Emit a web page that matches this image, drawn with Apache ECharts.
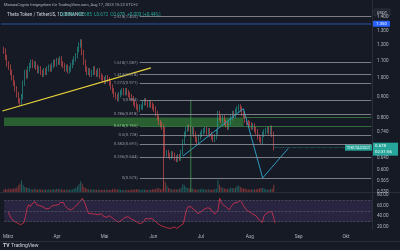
<!DOCTYPE html>
<html><head><meta charset="utf-8">
<script src="https://cdn.jsdelivr.net/npm/echarts@6/dist/echarts.min.js"></script>
<style>html,body{margin:0;padding:0;background:#161a25;}#c{width:400px;height:250px;}</style>
</head><body><div id="c"></div>
<script>
// ---------- DATA ----------
const monthNames = {'03':'März','04':'Apr','05':'Mai','06':'Jun','07':'Jul','08':'Aug','09':'Sep','10':'Okt'};
const firstOpen = 1.17;
// daily closes 2023-03-01 .. 2023-08-17
const closes = [
1.16,1.12,1.08,1.06,1.03,1.00,0.97,0.94,0.91,0.88,0.87,0.90,0.97,1.03,1.01,1.05,1.07,1.09,1.07,1.08,1.06,1.04,1.05,1.03,1.02,1.04,1.03,1.05,1.06,1.05,1.07,
1.09,1.08,1.10,1.09,1.11,1.08,1.07,1.05,1.06,1.04,1.05,1.07,1.09,1.11,1.13,1.17,1.20,1.22,1.15,1.09,1.05,1.03,1.04,1.02,1.03,1.05,1.03,1.02,1.04,1.01,
1.00,0.99,0.98,1.00,0.99,0.97,0.95,0.93,0.91,0.90,0.89,0.91,0.92,0.93,0.92,0.93,0.92,0.91,0.90,0.89,0.87,0.86,0.85,0.84,0.85,0.85,0.87,0.88,0.87,0.86,0.87,
0.86,0.85,0.84,0.82,0.80,0.78,0.77,0.76,0.75,0.655,0.66,0.65,0.645,0.655,0.65,0.64,0.635,0.645,0.64,0.66,0.70,0.73,0.75,0.76,0.755,0.74,0.75,0.73,0.71,0.70,
0.72,0.73,0.74,0.745,0.75,0.74,0.745,0.73,0.72,0.71,0.72,0.74,0.82,0.80,0.79,0.80,0.78,0.77,0.76,0.78,0.80,0.82,0.81,0.83,0.84,0.85,0.84,0.82,0.81,0.79,0.78,
0.775,0.77,0.76,0.765,0.75,0.74,0.72,0.71,0.70,0.73,0.74,0.745,0.75,0.74,0.755,0.73,0.678];
const lowOverride = {100: 0.536};
const volumes = [
20,22,18,25,20,24,22,26,30,45,60,80,50,35,30,28,25,20,18,22,20,18,19,17,16,18,15,17,19,16,18,
20,17,22,19,25,18,16,15,17,16,15,18,20,24,30,40,55,75,60,35,28,22,20,18,17,19,16,15,17,16,
15,14,16,18,15,14,16,20,22,18,17,19,15,14,13,15,14,13,15,16,18,17,20,19,16,15,18,17,15,14,16,
15,17,20,22,25,28,20,18,22,70,45,30,22,20,18,19,17,20,22,30,55,48,35,28,25,22,24,20,18,16,
18,20,22,19,18,17,19,16,15,17,20,22,85,50,35,28,25,22,20,24,30,28,26,32,40,45,35,28,25,22,20,
18,17,16,18,17,19,22,25,28,30,22,20,18,17,19,24,50];
const rsi = [
48,42,36,33,30,28,27,25,24,26,28,40,55,62,58,63,66,68,62,64,60,57,58,55,54,57,55,58,60,58,61,
64,62,66,63,66,60,58,54,56,52,54,57,60,63,65,70,74,76,62,52,45,43,45,42,44,47,43,42,45,41,
40,38,37,41,40,37,34,32,30,29,28,33,36,38,36,39,37,35,33,32,30,28,27,26,29,30,36,38,35,33,36,
34,31,29,26,24,22,21,20,20,18,18,17,19,20,19,17,19,22,21,26,40,52,58,60,58,54,56,50,45,43,
48,51,53,55,56,53,55,50,47,44,47,52,74,66,62,64,58,55,52,57,61,65,62,66,68,70,66,60,57,52,50,
48,46,44,45,41,38,33,30,28,40,44,46,48,45,49,40,27];
const priceTicks = [1.4,1.3,1.2,1.1,1.0,0.9,0.8,0.74,0.64,0.6,0.565,0.53];
const rsiTicks = [20,40,60,80];
const fibLevels = [
 {t:'2.618(1.405)', p:1.405},{t:'1.618(1.087)', p:1.087},{t:'1.414(1.018)', p:1.018},
 {t:'1.272(0.971)', p:0.971},{t:'1(0.884)', p:0.884},{t:'0.786(0.818)', p:0.818},
 {t:'0.5(0.728)', p:0.728},{t:'0.382(0.691)', p:0.691},{t:'0.236(0.644)', p:0.644},{t:'0(0.573)', p:0.573}];
const goldenZone = [0.765, 0.802];
const trendLine = [[1,0.831],[94,1.056]];
const abcdPath = [[114,0.647],[152,0.842],[164,0.573],[180,0.675]];
const vLine = [[119,0.885],[119,0.53]];
const blueLevel = 1.35;
const lastPrice = 0.678;

// ---------- BUILD ----------
const OFF = 2, N = 233;
const cats = [];
for (let k=0;k<N;k++){ const d=new Date(Date.UTC(2023,1,27+k)); cats.push(d.toISOString().slice(0,10)); }
const candles = cats.map(()=>'-'), vols = cats.map(()=>'-'), rsiData = cats.map(()=>'-');
for (let i=0;i<closes.length;i++){
  const o = i===0 ? firstOpen : closes[i-1], c = closes[i];
  let hi = Math.max(o,c)*1.015, lo = Math.min(o,c)*0.985;
  if (lowOverride[i]) lo = lowOverride[i];
  candles[i+OFF] = [o,c,lo,hi];
  vols[i+OFF] = {value: volumes[i], itemStyle:{color: c>=o ? 'rgba(38,166,154,0.5)' : 'rgba(239,83,80,0.5)'}};
  rsiData[i+OFF] = rsi[i];
}
const endIdx = N-1, fibStart = 87;
const txt = '#b2b5be', font = 'Roboto, "Liberation Sans", sans-serif';
const fibLines = fibLevels.map(f => [
  {coord:[fibStart, f.p], label:{show:true, formatter:f.t, position:'start', distance:2, color:'#9598a1', fontSize:4.2, fontFamily:font}},
  {coord:[endIdx, f.p]}]);
const chart = echarts.init(document.getElementById('c'), null, {renderer:'canvas'});
const xBase = {type:'category', data:cats, boundaryGap:true, axisLine:{show:false}, axisTick:{show:false}, splitLine:{show:false}};
chart.setOption({
  animation:false, backgroundColor:'#161a25',
  grid:[{left:0,right:28,top:0,height:192},{left:0,right:28,top:172,height:20},{left:0,right:28,top:193,height:36}],
  xAxis:[
    Object.assign({gridIndex:0, axisLabel:{show:false}}, xBase),
    Object.assign({gridIndex:1, axisLabel:{show:false}}, xBase),
    Object.assign({gridIndex:2, axisLabel:{show:true, color:txt, fontSize:4.6, fontFamily:font, margin:5,
      interval:(i,v)=>v.slice(8)==='01', formatter:v=>monthNames[v.slice(5,7)]||''}}, xBase)
  ],
  yAxis:[
    {type:'log', gridIndex:0, logBase:10, min:0.530, max:1.54, position:'right', axisLine:{show:true,lineStyle:{color:'#2a2e39'}}, axisTick:{show:false}, axisLabel:{show:false}, splitLine:{show:false}},
    {type:'value', gridIndex:1, min:0, max:140, show:false, splitLine:{show:false}},
    {type:'value', gridIndex:2, min:16, max:84, position:'right', axisLine:{show:true,lineStyle:{color:'#2a2e39'}}, axisTick:{show:false}, splitLine:{show:false},
      axisLabel:{color:txt, fontSize:4.6, fontFamily:font, margin:5, customValues:rsiTicks, formatter:v=>v.toFixed(2)}},
    {type:'value', gridIndex:0, min:Math.log10(0.530), max:Math.log10(1.54), position:'right', axisLine:{show:false}, axisTick:{show:false}, splitLine:{show:false},
      axisLabel:{color:txt, fontSize:4.6, fontFamily:font, margin:5, customValues:priceTicks.map(Math.log10), formatter:v=>Math.pow(10,v).toFixed(3)}}
  ],
  series:[
    {type:'candlestick', xAxisIndex:0, yAxisIndex:0, data:candles, barWidth:1,
     itemStyle:{color:'#26a69a', color0:'#ef5350', borderColor:'#26a69a', borderColor0:'#ef5350', borderWidth:0.6},
     markArea:{silent:true, itemStyle:{color:'rgba(56,142,60,0.6)'}, data:[[{coord:[OFF, goldenZone[0]]},{coord:[152, goldenZone[1]]}]]},
     markLine:{silent:true, symbol:'none', label:{show:false}, data:[
        ...fibLines,
        [{coord:[fibStart, goldenZone[0]], lineStyle:{color:'rgba(76,175,80,0.7)'}, label:{show:true, formatter:'0.618(0.765)', position:'start', distance:2, color:'#81c784', fontSize:4.2, fontFamily:font}},{coord:[endIdx, goldenZone[0]]}],
        [{coord:[152, goldenZone[1]], lineStyle:{color:'rgba(76,175,80,0.7)'}},{coord:[endIdx, goldenZone[1]]}],
        [{coord:trendLine[0], lineStyle:{color:'#e6d23c', width:1.2, type:'solid'}},{coord:trendLine[1]}],
        [{coord:[0, blueLevel], lineStyle:{color:'#1e3566', width:2, type:'solid'}},{coord:[endIdx, blueLevel]}],
        [{coord:[OFF+closes.length-1, lastPrice], lineStyle:{color:'#26a69a', width:0.6, type:'dotted'}},{coord:[endIdx, lastPrice]}]
     ], lineStyle:{color:'#9598a1', width:0.8, type:'solid'}}},
    {type:'line', xAxisIndex:0, yAxisIndex:0, data:abcdPath, symbol:'none', lineStyle:{color:'#2b9ac0', width:1}, silent:true},
    {type:'line', xAxisIndex:0, yAxisIndex:0, data:vLine, symbol:'none', lineStyle:{color:'#3f9a4a', width:0.8}, silent:true},
    {type:'bar', xAxisIndex:1, yAxisIndex:1, data:vols, barWidth:1},
    {type:'line', xAxisIndex:2, yAxisIndex:2, data:rsiData, symbol:'none', lineStyle:{color:'#e0324f', width:0.8},
     markArea:{silent:true, itemStyle:{color:'rgba(126,87,194,0.18)'}, data:[[{yAxis:70},{yAxis:30}]]},
     markLine:{silent:true, symbol:'none', label:{show:false}, lineStyle:{color:'#5d6070', type:'dashed', width:0.6}, data:[{yAxis:70},{yAxis:50},{yAxis:30}]}}
  ]
});
const yLast = chart.convertToPixel({yAxisIndex:0}, lastPrice);
const yBlue = chart.convertToPixel({yAxisIndex:0}, blueLevel);
chart.setOption({graphic:[
  {type:'line', shape:{x1:0,y1:192.5,x2:400,y2:192.5}, style:{stroke:'#2a2e39', lineWidth:1}},
  {type:'line', shape:{x1:0,y1:241.5,x2:400,y2:241.5}, style:{stroke:'#2a2e39', lineWidth:1}},
  {type:'text', x:4, y:3, style:{text:'MarsasCrypto freigegeben für TradingView.com, Aug 17, 2023 15:23 UTC+2', fill:txt, font:'4px '+font}},
  {type:'text', x:7, y:12, style:{text:'Theta Token / TetherUS, 1D, BINANCE', fill:'#d1d4dc', font:'4.6px '+font}},
  {type:'text', x:60, y:12, style:{text:'O0.676  H0.685  L0.672  C0.678  +0.003 (+0.44%)', fill:'#26a69a', font:'4.6px '+font}},
  {type:'rect', shape:{x:374,y:9,width:16,height:7,r:1}, style:{fill:'#1e222d', stroke:'#434651', lineWidth:0.5}},
  {type:'text', x:382, y:12.5, style:{text:'USDT', fill:'#d1d4dc', font:'4.2px '+font, align:'center', verticalAlign:'middle'}},
  {type:'rect', shape:{x:373,y:yBlue-3,width:17,height:6,r:1}, style:{fill:'#2962ff'}},
  {type:'text', x:381.5, y:yBlue, style:{text:blueLevel.toFixed(3), fill:'#ffffff', font:'4.2px '+font, align:'center', verticalAlign:'middle'}},
  {type:'rect', shape:{x:345,y:yLast-3,width:27,height:6}, style:{fill:'#26a69a'}},
  {type:'text', x:358.5, y:yLast, style:{text:'THETAUSDT', fill:'#ffffff', font:'4.2px '+font, align:'center', verticalAlign:'middle'}},
  {type:'rect', shape:{x:372,y:yLast-5,width:26,height:13}, style:{fill:'#26a69a'}},
  {type:'text', x:375, y:yLast-1.5, style:{text:lastPrice.toFixed(3), fill:'#ffffff', font:'4.4px '+font, verticalAlign:'middle'}},
  {type:'text', x:375, y:yLast+4.5, style:{text:'02:31:56', fill:'#ffffff', font:'4.4px '+font, verticalAlign:'middle'}},
  {type:'text', x:3, y:243.5, style:{text:'TV', fill:'#d1d4dc', font:'bold 5px '+font}},
  {type:'text', x:11, y:243.5, style:{text:'TradingView', fill:'#d1d4dc', font:'5px '+font}}
]});
</script></body></html>
